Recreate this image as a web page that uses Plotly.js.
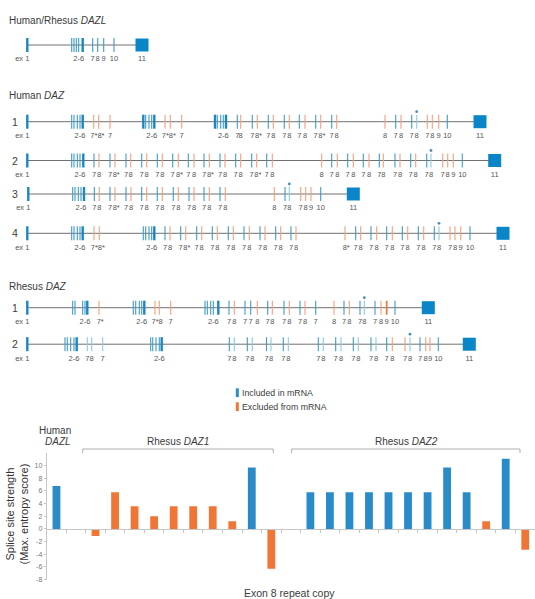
<!DOCTYPE html>
<html><head><meta charset="utf-8">
<script src="https://cdn.plot.ly/plotly-3.0.1.min.js"></script>
<style>html,body{margin:0;padding:0;background:#fff}#chart{width:535px;height:599px}</style>
</head><body><div id="chart"></div>
<script>
// ===== Panel A: exon maps (schematic exon positions along each gene) =====
// kind codes: B = included (strong), b = included, l = included (light),
//             d = included copy marked with a dot, o = excluded, O = excluded (strong)
const dazlPos  = [27.3,71.7,74,76.3,78.7,82.7,92.7,97.7,103.7,114];
const dazlKind = 'BbbbbBbbbb';
const dazlLab  = ['ex 1','','','','2-6','','7','8','9','10'];
const dazlEx11 = 142;

const hDaz1Pos  = [27.3,71.7,74,77.3,80,82.7,93.7,98.7,110,143.3,145.7,149,151.7,154.3,165,170.3,181.7,
  215,217.3,220.7,223.3,226,237.3,240.7,252.3,257.3,268.3,273.3,284.3,289.3,299.3,305,315.7,320.7,331.7,336.7,
  385,395.7,401,411.7,416.7,427.3,432.3,438.7,447.3];
const hDaz1Kind = 'BbbbbBoooBbbbBoooBbbbBbobobobobobobo'+'obobdooob';
const hDaz1Lab  = ['ex 1','','','','2-6','','7*','8*','7','','','','2-6','','7*','8*','7',
  '','','','2-6','','7','8','7','8*','7','8','7','8','7','8','7','8*','7','8',
  '8','7','8','7','8','7','8','9','10'];
const hDaz1Ex11 = 480;

const hDaz2Pos  = [27.3,71.7,74,77.3,80,83.3,94,99,110,115,126,130.7,141.7,146.7,157.3,162.3,172.7,178.3,188.3,194,
  204,209.3,220,225,235.7,240.7,251.7,256.7,266.7,272.3,
  321.7,331.7,337.3,347.7,353.3,363.3,369,379.3,383.3,395,400,410.7,415.7,426.7,431,442.7,447.7,453.3,462.3];
const hDaz2Kind = 'BbbbbB'+'bobobobobobobobobobobobo'+'o'+'bobobobobobo'+'bd'+'ooob';
const hDaz2Lab  = ['ex 1','','','','2-6','','7','8','7','8*','7','8','7','8','7','8','7','8*','7','8','7','8*',
  '7','8','7','8','7','8*','7','8',
  '8','7','8','7','8','7','8','7','8','7','8','7','8','7','8','7','8','9','10'];
const hDaz2Ex11 = 494.7;

const hDaz3Pos  = [28.3,72.7,75,78.3,81,84,94.3,99.3,110,115,126,131,141.7,146.7,157.3,162.3,173.3,178.3,189,194,
  204,209.3,220,225.3,274.3,285,289.3,300.7,305.7,311,320.7];
const hDaz3Kind = 'BbbbbB'+'bobobobobobobobobo'+'obdooob';
const hDaz3Lab  = ['ex 1','','','','2-6','','7','8','7','8*','7','8','7','8','7','8','7','8','7','8','7','8','7','8',
  '8','7','8','7','8','9','10'];
const hDaz3Ex11 = 353.3;

const hDaz4Pos  = [27.3,71.7,74,77.3,80,82.7,94,99.3,143.3,145.7,149,151.7,154.3,
  165,170,180.7,185.7,196.7,201.7,212.3,217.3,228.3,233.3,244,249.3,260,265,275.7,280.7,291,296,
  345,355.7,360.7,371,376.7,386.7,392.3,402.3,407.7,418.3,423.7,434.3,439,450,455,460.7,470];
const hDaz4Kind = 'BbbbbB'+'oo'+'bbbbB'+'bobobobobobobobobo'+'o'+'bobobobobo'+'bd'+'ooob';
const hDaz4Lab  = ['ex 1','','','','2-6','','7*','8*','','','','2-6','',
  '7','8','7','8*','7','8','7','8','7','8','7','8','7','8','7','8','7','8',
  '8*','7','8','7','8','7','8','7','8','7','8','7','8','7','8','9','10'];
const hDaz4Ex11 = 503;

const rDaz1Pos  = [27.3,72.7,75,82.7,85,87.3,99,133.3,135.7,139.3,141.7,144.3,155,159.3,170.7,
  205,207.3,210.7,213.3,218.3,229,234.3,245,250.7,257.3,267.7,272.3,284,289.3,300,305,315.7,
  334,344,349.3,360,364.3,375,381,386.7,395];
const rDaz1Kind = 'BbbbbB'+'o'+'bbbbB'+'ooo'+'bbbbB'+'bobbobobobob'+'obobdboOb';
const rDaz1Lab  = ['ex 1','','','','2-6','','7*','','','','2-6','','7*','8','7',
  '','','','2-6','','7','8','7','7','8','7','8','7','8','7','8','7',
  '8','7','8','7','8','7','8','9','10'];
const rDaz1Ex11 = 428.3;

const rDaz2Pos  = [27.3,65,67.3,70.7,74,76.7,87.3,91.7,102.7,150.7,152.7,156,159.3,161.7,
  229.3,234.3,247.3,252.3,266.5,271,283.3,288.3,318.3,323.3,335.7,341,353.3,358.3,371,376,
  386.7,392.3,405,410,420,425.7,430,438.3];
const rDaz2Kind = 'BbbbbB'+'lll'+'bbbbB'+'blblblbl'+'blblblbl'+'bo'+'od'+'boob';
const rDaz2Lab  = ['ex 1','','','','2-6','','7','8','7','','','','2-6','',
  '7','8','7','8','7','8','7','8','7','8','7','8','7','8','7','8',
  '7','8','7','8','7','8','9','10'];
const rDaz2Ex11 = 469.3;

// ===== Panel B: splice site strength (max. entropy score) of exon 8 repeat copies =====
const dazlScore   = [6.8];
const dazlIncl    = [1];
const rDaz1Scores = [-1.1, 5.8, 3.6, 2.0, 3.6, 3.6, 3.6, 1.2, 9.7, -6.3];
const rDaz1Incl   = [0, 0, 0, 0, 0, 0, 0, 0, 1, 0];
const rDaz2Scores = [5.8, 5.8, 5.8, 5.8, 5.8, 5.8, 5.8, 9.7, 5.8, 1.2, 11.1, -3.3];
const rDaz2Incl   = [1, 1, 1, 1, 1, 1, 1, 1, 1, 0, 1, 0];
const yTickVals   = [-8, -6, -4, -2, 0, 2, 4, 6, 8, 10];
const yTickText   = ['-8', '-6', '-4', '-2', '0', '2', '4', '6', '8', '10'];

// ---------- drawing ----------
const FONT = 'Liberation Sans, Arial, Helvetica, sans-serif';
const rows = [
  {pos: dazlPos,  kind: dazlKind,  lab: dazlLab,  ex11: dazlEx11,  y: 45},
  {pos: hDaz1Pos, kind: hDaz1Kind, lab: hDaz1Lab, ex11: hDaz1Ex11, y: 121.7},
  {pos: hDaz2Pos, kind: hDaz2Kind, lab: hDaz2Lab, ex11: hDaz2Ex11, y: 160.5},
  {pos: hDaz3Pos, kind: hDaz3Kind, lab: hDaz3Lab, ex11: hDaz3Ex11, y: 194},
  {pos: hDaz4Pos, kind: hDaz4Kind, lab: hDaz4Lab, ex11: hDaz4Ex11, y: 233.3},
  {pos: rDaz1Pos, kind: rDaz1Kind, lab: rDaz1Lab, ex11: rDaz1Ex11, y: 307.7},
  {pos: rDaz2Pos, kind: rDaz2Kind, lab: rDaz2Lab, ex11: rDaz2Ex11, y: 344.2}
];
const kindStyle = {
  B: {color: '#1a86c2', width: 2.4},
  b: {color: '#3f9bc4', width: 1.1},
  l: {color: '#8ccbe4', width: 1.1},
  d: {color: '#8ccbe4', width: 1.1},
  o: {color: '#f4a07c', width: 1.1},
  O: {color: '#ec7a44', width: 1.8}
};
const HALF = 7, LABDY = 14.5, DOTDY = 10, LABSIZE = 7.5;

const traces = [];
// backbone
const bx = [], by = [];
rows.forEach(r => { bx.push(r.pos[0], r.ex11, null); by.push(r.y, r.y, null); });
traces.push({type: 'scatter', mode: 'lines', x: bx, y: by, line: {color: '#707070', width: 1},
  hoverinfo: 'skip', xaxis: 'x', yaxis: 'y'});
// exon ticks by kind
Object.keys(kindStyle).forEach(k => {
  const tx = [], ty = [];
  rows.forEach(r => {
    r.pos.forEach((p, i) => {
      if (r.kind[i] === k) { tx.push(p, p, null); ty.push(r.y - HALF, r.y + HALF, null); }
    });
  });
  traces.push({type: 'scatter', mode: 'lines', x: tx, y: ty, line: kindStyle[k],
    hoverinfo: 'skip', xaxis: 'x', yaxis: 'y'});
});
// dots above marked copies
const dx = [], dy = [];
rows.forEach(r => r.pos.forEach((p, i) => { if (r.kind[i] === 'd') { dx.push(p); dy.push(r.y - DOTDY); } }));
traces.push({type: 'scatter', mode: 'markers', x: dx, y: dy, marker: {size: 2.8, color: '#4a8fb8'},
  hoverinfo: 'skip', xaxis: 'x', yaxis: 'y'});
// exon 11 boxes
traces.push({type: 'scatter', mode: 'markers', x: rows.map(r => r.ex11), y: rows.map(r => r.y),
  marker: {symbol: 'square', size: 13, color: '#0a85c7', line: {width: 0}},
  hoverinfo: 'skip', xaxis: 'x', yaxis: 'y'});
// exon labels: a starred label that sits too close to the next one is written together with it
const lx = [], ly = [], lt = [];
rows.forEach(r => {
  const items = [];
  r.lab.forEach((t, i) => { if (t) items.push({t: t, x: r.pos[i]}); });
  for (let i = 0; i < items.length; i++) {
    let t = items[i].t, x0 = items[i].x, x1 = x0;
    while (t.endsWith('*') && i + 1 < items.length && items[i + 1].x - x1 < 6) {
      i++; t += items[i].t; x1 = items[i].x;
    }
    let cx = (x0 + x1) / 2 + (t.endsWith('*') ? 1.2 : 0);
    if (t === 'ex 1') cx = x0 - 5;
    lx.push(cx); ly.push(r.y + LABDY); lt.push(t);
  }
  lx.push(r.ex11); ly.push(r.y + LABDY); lt.push('11');
});
traces.push({type: 'scatter', mode: 'text', x: lx, y: ly, text: lt, textposition: 'middle center',
  textfont: {family: FONT, size: LABSIZE, color: '#555'}, hoverinfo: 'skip', xaxis: 'x', yaxis: 'y'});

// bars
const bxs = [], bys = [], bcs = [];
const INC = '#2a8bc9', EXC = '#f07636';
let slot = 0;
[[dazlScore, dazlIncl], [rDaz1Scores, rDaz1Incl], [rDaz2Scores, rDaz2Incl]].forEach((g, gi) => {
  if (gi > 0) slot += 1; // gap between groups
  g[0].forEach((v, i) => { bxs.push(slot); bys.push(v); bcs.push(g[1][i] ? INC : EXC); slot += 1; });
});
const nSlots = slot;
traces.push({type: 'bar', x: bxs, y: bys, marker: {color: bcs, line: {width: 0}}, width: 0.4,
  hoverinfo: 'skip', xaxis: 'x2', yaxis: 'y2'});
const bounds = [];
for (let i = 0; i < nSlots - 1; i++) bounds.push(i + 0.5);

const ann = [];
function A(text, x, y, size, anchor, extra) {
  ann.push(Object.assign({text: text, x: x, y: y, xref: 'x', yref: 'y', showarrow: false,
    xanchor: anchor || 'left', yanchor: 'middle', font: {family: FONT, size: size, color: '#3c3c3c'}}, extra || {}));
}
A('A)', -1, 5, 10);
A('Human/Rhesus <i>DAZL</i>', 6.5, 20.7, 10);
A('Human <i>DAZ</i>', 6.5, 95, 10);
A('Rhesus <i>DAZ</i>', 6.5, 286.7, 10);
['1', '2', '3', '4'].forEach((t, i) => A(t, 15, rows[i + 1].y, 10.5, 'center'));
['1', '2'].forEach((t, i) => A(t, 15, rows[i + 5].y, 10.5, 'center'));
A('Included in mRNA', 239.5, 392.7, 8.8);
A('Excluded from mRNA', 239.5, 406.7, 8.8);
A('B)', -0.5, 433, 10);
A('Human', 55, 430, 10, 'center');
A('<i>DAZL</i>', 58, 441, 10, 'center');
A('Rhesus <i>DAZ1</i>', 178, 441.7, 10, 'center');
A('Rhesus <i>DAZ2</i>', 406.7, 441.7, 10, 'center');
A('Exon 8 repeat copy', 289, 592.5, 10.5, 'center');
A('Splice site strength<br>(Max. entropy score)', 16.5, 514, 11, 'center', {textangle: -90, font: {family: FONT, size: 11, color: '#333'}});

const shapes = [
  {type: 'path', xref: 'x', yref: 'y', path: 'M82.7,453 L82.7,449 L273.3,449 L273.3,453', line: {color: '#9a9a9a', width: 0.8}},
  {type: 'path', xref: 'x', yref: 'y', path: 'M291.7,453 L291.7,449 L520,449 L520,453', line: {color: '#9a9a9a', width: 0.8}},
  {type: 'rect', xref: 'x', yref: 'y', x0: 235.8, x1: 238.8, y0: 388.3, y1: 397.1, fillcolor: INC, line: {width: 0}},
  {type: 'rect', xref: 'x', yref: 'y', x0: 235.8, x1: 238.8, y0: 402.3, y1: 411.1, fillcolor: EXC, line: {width: 0}}
];

const layout = {
  width: 535, height: 599, margin: {l: 0, r: 0, t: 0, b: 0, pad: 0},
  paper_bgcolor: '#ffffff', plot_bgcolor: 'rgba(0,0,0,0)', showlegend: false,
  font: {family: FONT, color: '#444'},
  xaxis: {domain: [0, 1], range: [0, 535], visible: false, fixedrange: true},
  yaxis: {domain: [0, 1], range: [599, 0], visible: false, fixedrange: true},
  xaxis2: {domain: [46.7 / 535, 1], range: [-0.5, nSlots - 0.5], anchor: 'free', position: 1 - 529 / 599,
    showline: true, linecolor: '#c6c6c6', linewidth: 1, ticks: 'outside', ticklen: 2.5, tickcolor: '#c6c6c6',
    tickmode: 'array', tickvals: bounds, showticklabels: false, showgrid: false, zeroline: false, fixedrange: true},
  yaxis2: {domain: [1 - 579.6 / 599, 1 - 453 / 599], range: [-8, 12], anchor: 'x2',
    showline: true, linecolor: '#c6c6c6', linewidth: 1, ticks: 'outside', ticklen: 2, tickcolor: '#c6c6c6',
    tickmode: 'array', tickvals: yTickVals, ticktext: yTickText, tickfont: {family: FONT, size: 7, color: '#777'},
    showgrid: false, zeroline: false, fixedrange: true},
  annotations: ann, shapes: shapes
};
Plotly.newPlot('chart', traces, layout, {staticPlot: true, displayModeBar: false});
</script></body></html>
